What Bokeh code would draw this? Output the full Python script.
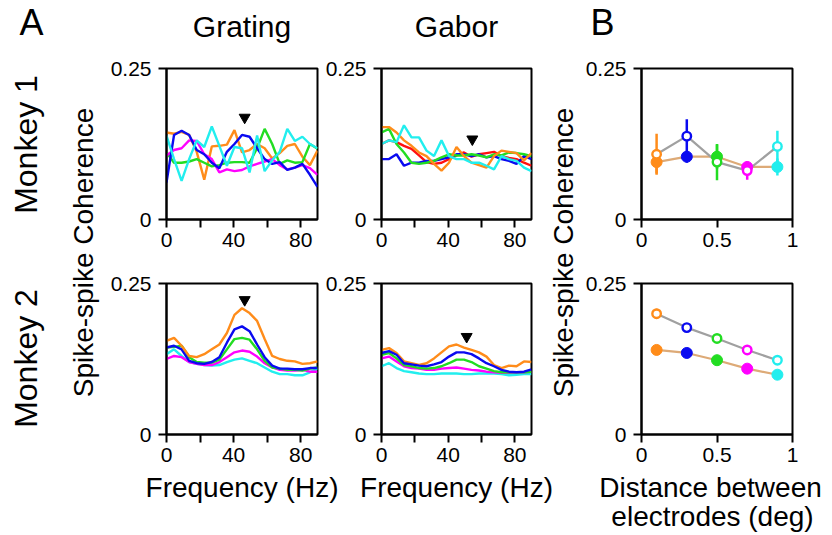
from math import pi
from bokeh.plotting import figure
from bokeh.layouts import row, column
from bokeh.models import Range1d, FixedTicker, Label
from bokeh.embed import file_html
from bokeh.resources import INLINE

FONT = "Liberation Sans"

# ---------------- data ----------------
freq = [0, 4.5, 9, 13.5, 18, 22.5, 27, 31.5, 36, 40.5, 45, 49.5, 54, 58.5, 63, 67.5, 72, 76.5, 81, 85.5, 90]
freq_ticks = [0, 20, 40, 60, 80]
coh_ticks = [0, 0.25]
dist = [0.1, 0.3, 0.5, 0.7, 0.9]
dist_ticks = [0, 0.5, 1]

# Grating, Monkey 1
gr1_orange = [0.144, 0.142, 0.145, 0.140, 0.112, 0.066, 0.121, 0.122, 0.124, 0.148, 0.111, 0.115, 0.125, 0.118, 0.101, 0.110, 0.122, 0.125, 0.104, 0.090, 0.114]
gr1_green = [0.111, 0.094, 0.094, 0.096, 0.100, 0.094, 0.088, 0.090, 0.094, 0.095, 0.095, 0.094, 0.118, 0.150, 0.125, 0.092, 0.098, 0.094, 0.095, 0.125, 0.117]
gr1_magenta = [0.106, 0.115, 0.118, 0.131, 0.130, 0.108, 0.100, 0.078, 0.083, 0.080, 0.082, 0.088, 0.092, 0.096, 0.100, 0.090, 0.083, 0.086, 0.090, 0.085, 0.074]
gr1_blue = [0.061, 0.140, 0.147, 0.140, 0.115, 0.108, 0.094, 0.085, 0.112, 0.125, 0.140, 0.137, 0.118, 0.100, 0.092, 0.095, 0.082, 0.086, 0.092, 0.074, 0.054]
gr1_cyan = [0.139, 0.100, 0.064, 0.100, 0.131, 0.120, 0.154, 0.122, 0.089, 0.120, 0.118, 0.078, 0.139, 0.080, 0.098, 0.112, 0.150, 0.130, 0.137, 0.125, 0.118]
gr1_peak = [46.6, 0.169]

# Gabor, Monkey 1
gb1_red = [0.125, 0.131, 0.128, 0.122, 0.117, 0.106, 0.095, 0.092, 0.094, 0.100, 0.106, 0.111, 0.104, 0.108, 0.110, 0.112, 0.105, 0.102, 0.100, 0.094, 0.089]
gb1_blue = [0.100, 0.100, 0.108, 0.089, 0.094, 0.094, 0.097, 0.097, 0.100, 0.103, 0.108, 0.108, 0.105, 0.108, 0.103, 0.105, 0.100, 0.097, 0.092, 0.105, 0.100]
gb1_green = [0.144, 0.150, 0.125, 0.111, 0.094, 0.092, 0.094, 0.097, 0.103, 0.108, 0.106, 0.106, 0.108, 0.106, 0.103, 0.108, 0.106, 0.111, 0.110, 0.108, 0.105]
gb1_orange = [0.153, 0.153, 0.144, 0.131, 0.122, 0.111, 0.105, 0.092, 0.081, 0.094, 0.120, 0.105, 0.094, 0.090, 0.086, 0.105, 0.114, 0.112, 0.110, 0.098, 0.110]
gb1_cyan = [0.125, 0.131, 0.128, 0.156, 0.136, 0.136, 0.114, 0.105, 0.131, 0.105, 0.100, 0.100, 0.094, 0.094, 0.089, 0.083, 0.105, 0.100, 0.097, 0.086, 0.080]
gb1_peak = [54.5, 0.133]

# Grating, Monkey 2
gr2_cyan = [0.133, 0.141, 0.130, 0.120, 0.117, 0.115, 0.114, 0.115, 0.120, 0.124, 0.126, 0.122, 0.118, 0.111, 0.104, 0.100, 0.100, 0.098, 0.098, 0.103, 0.109]
gr2_magenta = [0.125, 0.130, 0.128, 0.120, 0.117, 0.115, 0.115, 0.120, 0.128, 0.136, 0.139, 0.137, 0.129, 0.118, 0.111, 0.107, 0.106, 0.106, 0.107, 0.104, 0.104]
gr2_green = [0.144, 0.145, 0.147, 0.128, 0.120, 0.119, 0.119, 0.124, 0.141, 0.158, 0.160, 0.157, 0.141, 0.122, 0.111, 0.109, 0.107, 0.107, 0.106, 0.109, 0.111]
gr2_blue = [0.144, 0.147, 0.141, 0.122, 0.118, 0.117, 0.120, 0.128, 0.152, 0.174, 0.179, 0.171, 0.149, 0.128, 0.114, 0.109, 0.109, 0.108, 0.108, 0.110, 0.110]
gr2_orange = [0.155, 0.160, 0.147, 0.130, 0.128, 0.133, 0.141, 0.149, 0.168, 0.198, 0.209, 0.201, 0.188, 0.158, 0.130, 0.125, 0.122, 0.121, 0.117, 0.118, 0.121]
gr2_peak = [46.6, 0.223]

# Gabor, Monkey 2
gb2_cyan = [0.113, 0.118, 0.110, 0.105, 0.103, 0.101, 0.100, 0.100, 0.101, 0.101, 0.101, 0.100, 0.100, 0.101, 0.101, 0.101, 0.100, 0.098, 0.099, 0.100, 0.100]
gb2_magenta = [0.126, 0.129, 0.121, 0.113, 0.110, 0.109, 0.107, 0.107, 0.109, 0.110, 0.111, 0.109, 0.107, 0.106, 0.104, 0.103, 0.102, 0.102, 0.103, 0.103, 0.104]
gb2_green = [0.132, 0.135, 0.126, 0.115, 0.113, 0.110, 0.109, 0.110, 0.113, 0.118, 0.124, 0.124, 0.120, 0.113, 0.109, 0.105, 0.103, 0.103, 0.103, 0.103, 0.104]
gb2_orange = [0.140, 0.143, 0.135, 0.121, 0.118, 0.115, 0.118, 0.126, 0.136, 0.146, 0.149, 0.144, 0.140, 0.136, 0.129, 0.115, 0.110, 0.114, 0.113, 0.121, 0.120]
gb2_blue = [0.135, 0.138, 0.132, 0.118, 0.116, 0.114, 0.113, 0.116, 0.120, 0.129, 0.136, 0.136, 0.133, 0.126, 0.118, 0.113, 0.107, 0.104, 0.103, 0.104, 0.108]
gb2_peak = [51.1, 0.162]

# Distance panels: open = Gabor, filled = Grating
m1_open = [0.108, 0.138, 0.095, 0.081, 0.121]
m1_open_err = [0.034, 0.028, 0.030, 0.015, 0.026]
m1_filled = [0.095, 0.104, 0.104, 0.087, 0.087]
m1_filled_err = [0.019, 0.010, 0.020, 0.008, 0.014]
m2_open = [0.200, 0.177, 0.159, 0.140, 0.123]
m2_open_err = [0.008, 0.003, 0.003, 0.003, 0.003]
m2_filled = [0.140, 0.135, 0.123, 0.109, 0.099]
m2_filled_err = [0.004, 0.003, 0.003, 0.003, 0.003]

ORANGE, BLUE, GREEN, MAGENTA, CYAN, RED = "#FF8C1A", "#0A0AF0", "#22DD22", "#FF00FF", "#22EEEE", "#FF1010"
dist_colors = [ORANGE, BLUE, GREEN, MAGENTA, CYAN]
GRAY, TAN = "#A0A0A0", "#DDAA77"

# ---------------- layout geometry (page pixels) ----------------
TOP_H, BOTTOM_H = 50, 62
ROW1 = dict(top=18, bottom=39)
ROW2 = dict(top=25, bottom=38)
FRAME = 151
ROW1_H = ROW1["top"] + FRAME + ROW1["bottom"]
ROW2_H = ROW2["top"] + FRAME + ROW2["bottom"]
MID_H = ROW1_H + ROW2_H
TOTAL_W = 831


def panel(width, left, right, rowg, xr, xticks, xover):
    p = figure(width=width, height=rowg["top"] + FRAME + rowg["bottom"],
               x_range=Range1d(*xr), y_range=Range1d(0, 0.25),
               toolbar_location=None, output_backend="svg", title=None,
               min_border_left=left, min_border_right=right,
               min_border_top=rowg["top"], min_border_bottom=rowg["bottom"])
    p.grid.visible = False
    p.outline_line_color = "black"
    p.outline_line_width = 2
    for ax in (p.xaxis[0], p.yaxis[0]):
        ax.axis_line_width = 2
        ax.major_tick_line_width = 2
        ax.major_tick_out = 8
        ax.major_tick_in = 0
        ax.minor_tick_line_color = None
        ax.major_label_text_font = FONT
        ax.major_label_text_font_size = "21px"
        ax.major_label_text_color = "black"
    p.xaxis.ticker = FixedTicker(ticks=xticks)
    p.xaxis.major_label_overrides = xover
    p.xaxis.major_label_standoff = 5
    p.yaxis.ticker = FixedTicker(ticks=coh_ticks)
    p.yaxis.major_label_overrides = {0: "0", 0.25: "0.25"}
    p.yaxis.major_label_standoff = 7
    return p


fover = {20: "", 60: ""}
dover = {0: "0", 0.5: "0.5", 1: "1"}

p1 = panel(220, 66, 3, ROW1, (0, 90), freq_ticks, fover)
p4 = panel(220, 66, 3, ROW2, (0, 90), freq_ticks, fover)
p2 = panel(225, 61, 14, ROW1, (0, 90), freq_ticks, fover)
p5 = panel(225, 61, 14, ROW2, (0, 90), freq_ticks, fover)
p3 = panel(249, 59, 39, ROW1, (0, 1), dist_ticks, dover)
p6 = panel(249, 59, 39, ROW2, (0, 1), dist_ticks, dover)


def curves(p, series, peak):
    for ys, c in series:
        p.line(freq, ys, line_color=c, line_width=2.4)
    p.scatter([peak[0]], [peak[1]], marker="inverted_triangle", size=11,
              fill_color="black", line_color="black")


curves(p1, [(gr1_orange, ORANGE), (gr1_green, GREEN), (gr1_magenta, MAGENTA),
            (gr1_blue, BLUE), (gr1_cyan, CYAN)], gr1_peak)
curves(p2, [(gb1_red, RED), (gb1_blue, BLUE), (gb1_green, GREEN),
            (gb1_orange, ORANGE), (gb1_cyan, CYAN)], gb1_peak)
curves(p4, [(gr2_cyan, CYAN), (gr2_magenta, MAGENTA), (gr2_green, GREEN),
            (gr2_blue, BLUE), (gr2_orange, ORANGE)], gr2_peak)
curves(p5, [(gb2_cyan, CYAN), (gb2_magenta, MAGENTA), (gb2_green, GREEN),
            (gb2_orange, ORANGE), (gb2_blue, BLUE)], gb2_peak)


def distance(p, op, op_err, fi, fi_err):
    p.line(dist, fi, line_color=TAN, line_width=2.2)
    p.line(dist, op, line_color=GRAY, line_width=2.2)
    p.segment(dist, [v - e for v, e in zip(op, op_err)], dist, [v + e for v, e in zip(op, op_err)],
              line_color=dist_colors, line_width=2.5)
    p.segment(dist, [v - e for v, e in zip(fi, fi_err)], dist, [v + e for v, e in zip(fi, fi_err)],
              line_color=dist_colors, line_width=2.5)
    p.scatter(dist, fi, marker="circle", size=11, fill_color=dist_colors, line_color=dist_colors)
    p.scatter(dist, op, marker="circle", size=8.5, fill_color="white", line_color=dist_colors, line_width=2.4)


distance(p3, m1_open, m1_open_err, m1_filled, m1_filled_err)
distance(p6, m2_open, m2_open_err, m2_filled, m2_filled_err)


def strip(width, height):
    s = figure(width=width, height=height, x_range=Range1d(0, width), y_range=Range1d(0, height),
               x_axis_type=None, y_axis_type=None, toolbar_location=None,
               output_backend="svg", title=None, min_border=0)
    s.outline_line_color = None
    s.grid.visible = False
    return s


SHIFT = 0.36  # measured offset (in em) between requested and rendered baseline


def hlab(s, x, y_base, text, size, align="center"):
    # x in strip pixels; y_base = wanted baseline, in pixels from the strip's bottom edge
    s.add_layout(Label(x=x, y=y_base + SHIFT * size, text=text,
                       text_font=FONT, text_font_size=f"{size}px", text_color="black",
                       text_align=align, text_baseline="alphabetic"))


def vlab(s, x_base, y, text, size):
    # rotated text reading bottom-to-top; x_base = wanted baseline x in strip pixels
    s.add_layout(Label(x=x_base - SHIFT * size, y=y, text=text, angle=pi / 2,
                       text_font=FONT, text_font_size=f"{size}px", text_color="black",
                       text_align="center", text_baseline="alphabetic"))


# top strip: page y 0..50
top = strip(TOTAL_W, TOP_H)
hlab(top, 19, TOP_H - 35, "A", 36, align="left")
hlab(top, 241.5, TOP_H - 37, "Grating", 30)
hlab(top, 456, TOP_H - 37, "Gabor", 30)
hlab(top, 590, TOP_H - 35, "B", 36, align="left")

# left strip: page x 0..100, page y 50..472
left = strip(100, MID_H)
ytop = TOP_H + MID_H
vlab(left, 37, ytop - 144, "Monkey 1", 32)
vlab(left, 37, ytop - 358, "Monkey 2", 32)
vlab(left, 93, ytop - 252, "Spike-spike Coherence", 28)

# middle strip: page x 545..582
mid = strip(37, MID_H)
vlab(mid, 28, ytop - 252, "Spike-spike Coherence", 28)

# bottom strip: page y 472..534
bottom = strip(TOTAL_W, BOTTOM_H)
ybot = TOP_H + MID_H + BOTTOM_H
hlab(bottom, 241.5, ybot - 497, "Frequency (Hz)", 28)
hlab(bottom, 456, ybot - 497, "Frequency (Hz)", 28)
hlab(bottom, 710, ybot - 497, "Distance between", 28)
hlab(bottom, 712, ybot - 526, "electrodes (deg)", 28)

layout = column(top,
                row(left, column(p1, p4), column(p2, p5), mid, column(p3, p6)),
                bottom)

open("out.html", "w").write(file_html(layout, INLINE))
